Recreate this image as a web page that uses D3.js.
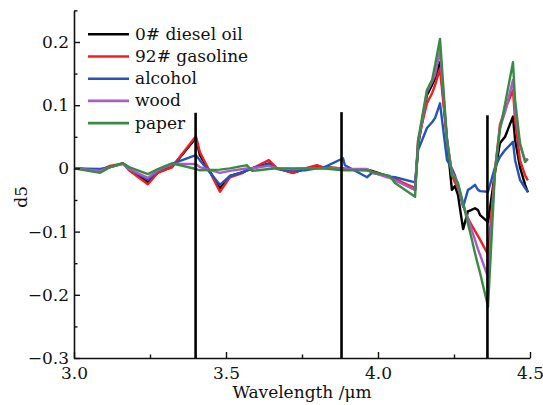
<!DOCTYPE html>
<html>
<head>
<meta charset="utf-8">
<script src="https://cdn.jsdelivr.net/npm/d3@7/dist/d3.min.js"></script>
<style>
  body { margin: 0; background: #fff; }
  svg { display: block; }
  text { font-family: "DejaVu Serif", "Liberation Serif", serif; fill: #111; }
</style>
</head>
<body>
<svg id="chart" width="543" height="405"></svg>
<script>
// ---- data ----
const wavelength = [3.000,3.086,3.118,3.161,3.181,3.243,3.276,3.322,3.401,3.414,3.480,3.513,3.556,3.569,3.586,3.641,3.668,3.720,3.760,3.799,3.816,3.885,3.891,3.964,3.980,4.030,4.039,4.056,4.122,4.132,4.161,4.178,4.188,4.204,4.227,4.243,4.253,4.263,4.280,4.296,4.306,4.319,4.329,4.336,4.362,4.385,4.401,4.418,4.444,4.451,4.467,4.484,4.493];

const diesel   = [0,-0.003,0.002,0.008,-0.001,-0.022,-0.006,0.002,0.048,0.021,-0.031,-0.012,-0.006,-0.003,0,0.008,0,-0.007,-0.001,0.004,0.002,0,-0.001,-0.002,-0.004,-0.012,-0.014,-0.017,-0.034,0.037,0.116,0.132,0.143,0.168,0.045,-0.034,-0.028,-0.042,-0.096,-0.068,-0.066,-0.063,-0.066,-0.074,-0.085,-0.006,0.040,0.050,0.082,0.045,0.002,-0.026,-0.038];
const gasoline = [0,-0.003,0.004,0.008,-0.003,-0.025,-0.007,0.002,0.051,0.026,-0.037,-0.014,-0.007,-0.003,0,0.013,0,-0.007,0,0.005,0.002,0,-0.001,-0.003,-0.005,-0.012,-0.014,-0.017,-0.031,0.045,0.103,0.119,0.132,0.158,0.045,-0.011,-0.022,-0.031,-0.058,-0.079,-0.088,-0.099,-0.107,-0.113,-0.136,-0.003,0.069,0.093,0.124,0.076,0.013,-0.011,-0.019];
const alcohol  = [0,-0.001,0.002,0.008,-0.001,-0.018,-0.004,0.007,0.021,0.013,-0.026,-0.012,-0.006,-0.003,0,0.007,-0.001,-0.003,-0.003,0,0,0.016,0.005,-0.014,-0.007,-0.012,-0.013,-0.014,-0.022,0.029,0.064,0.073,0.080,0.103,0.013,0,-0.011,-0.026,-0.061,-0.034,-0.031,-0.026,-0.034,-0.036,-0.037,0.002,0.018,0.029,0.042,0.013,-0.018,-0.031,-0.037];
const wood     = [0,-0.004,0.002,0.007,-0.001,-0.015,-0.003,0.007,0.007,0.002,-0.007,-0.004,-0.001,0,0,0.004,0,-0.001,0,0,0,0,-0.001,-0.001,-0.006,-0.014,-0.015,-0.019,-0.034,0.040,0.121,0.137,0.148,0.187,0.045,-0.006,-0.014,-0.026,-0.058,-0.080,-0.094,-0.113,-0.128,-0.137,-0.172,-0.003,0.064,0.089,0.140,0.092,0.037,0.013,0.015];
const paper    = [0,-0.007,0.002,0.008,0.002,-0.009,-0.001,0.008,-0.001,-0.003,-0.002,0,0.004,0.005,-0.004,-0.001,0,0,0,0,0,-0.003,-0.003,-0.003,-0.006,-0.011,-0.012,-0.023,-0.045,0.045,0.124,0.140,0.164,0.205,0.045,-0.011,-0.015,-0.023,-0.055,-0.088,-0.107,-0.134,-0.153,-0.166,-0.219,-0.003,0.061,0.102,0.168,0.108,0.040,0.010,0.015];

const seriesNames  = ["0# diesel oil","92# gasoline","alcohol","wood","paper"];
const seriesColors = ["#000000","#f01e23","#2454b8","#a95cc4","#3a8a44"];
const seriesValues = [diesel, gasoline, alcohol, wood, paper];

const markerX   = [3.40, 3.88, 4.36];
const markerTop = [0.088, 0.089, 0.084];

const xTicks = [3.0, 3.5, 4.0, 4.5];
const xMinor = [3.25, 3.75, 4.25];
const yTicks = [-0.3, -0.2, -0.1, 0, 0.1, 0.2];
const yMinor = [-0.25, -0.15, -0.05, 0.05, 0.15, 0.25];

// ---- drawing ----
const svg = d3.select("#chart");
const x = d3.scaleLinear().domain([3.0, 4.5]).range([74, 530]);
const y = d3.scaleLinear().domain([-0.3, 0.25]).range([358, 10.4]);

const fontSize = 17;

// series lines
const line = d3.line().x(d => x(d[0])).y(d => y(d[1]));
seriesValues.forEach((vals, i) => {
  const pts = wavelength.map((w, j) => [w, vals[j]]);
  svg.append("path")
    .datum(pts)
    .attr("d", line)
    .attr("fill", "none")
    .attr("stroke", seriesColors[i])
    .attr("stroke-width", 2.4)
    .attr("stroke-linejoin", "round");
});

// vertical markers
markerX.forEach((m, i) => {
  svg.append("line")
    .attr("x1", x(m)).attr("x2", x(m))
    .attr("y1", y(markerTop[i])).attr("y2", y(-0.3))
    .attr("stroke", "#000").attr("stroke-width", 2.6);
});

// axes
const fmtY = d => d === 0 ? "0" : d3.format(".1f")(d);
const gy = svg.append("g").attr("transform", `translate(${x(3.0)},0)`)
  .call(d3.axisLeft(y).tickValues(yTicks).tickFormat(fmtY).tickSizeInner(-6).tickSizeOuter(0).tickPadding(5));
const gyMinor = svg.append("g").attr("transform", `translate(${x(3.0)},0)`)
  .call(d3.axisLeft(y).tickValues(yMinor).tickFormat("").tickSizeInner(-3.5).tickSizeOuter(0));
const gx = svg.append("g").attr("transform", `translate(0,${y(-0.3)})`)
  .call(d3.axisBottom(x).tickValues(xTicks).tickFormat(d3.format(".1f")).tickSizeInner(-6).tickSizeOuter(0).tickPadding(9));
const gxMinor = svg.append("g").attr("transform", `translate(0,${y(-0.3)})`)
  .call(d3.axisBottom(x).tickValues(xMinor).tickFormat("").tickSizeInner(-3.5).tickSizeOuter(0));

[gy, gyMinor, gx, gxMinor].forEach(g => {
  g.selectAll("path.domain").attr("stroke", "#111").attr("stroke-width", 1.6);
  g.selectAll(".tick line").attr("stroke", "#111").attr("stroke-width", 1.4);
  g.selectAll("text").style("font-family", '"DejaVu Serif", serif').style("font-size", fontSize + "px").attr("fill", "#111");
});
gyMinor.select("path.domain").remove();
gxMinor.select("path.domain").remove();

// axis titles
svg.append("text")
  .attr("x", (x(3.0) + x(4.5)) / 2).attr("y", 398)
  .attr("text-anchor", "middle").style("font-size", fontSize + "px")
  .text("Wavelength /μm");
svg.append("text")
  .attr("transform", `translate(27,${y(-0.045)}) rotate(-90)`)
  .attr("text-anchor", "middle").style("font-size", fontSize + "px")
  .text("d5");

// legend
const legend = svg.append("g");
seriesNames.forEach((name, i) => {
  const ly = 34.3 + i * 22.2;
  legend.append("line")
    .attr("x1", 88).attr("x2", 129).attr("y1", ly).attr("y2", ly)
    .attr("stroke", seriesColors[i]).attr("stroke-width", 2.6);
  legend.append("text")
    .attr("x", 135).attr("y", ly + 5.5)
    .style("font-size", fontSize + "px")
    .text(name);
});
</script>
</body>
</html>
